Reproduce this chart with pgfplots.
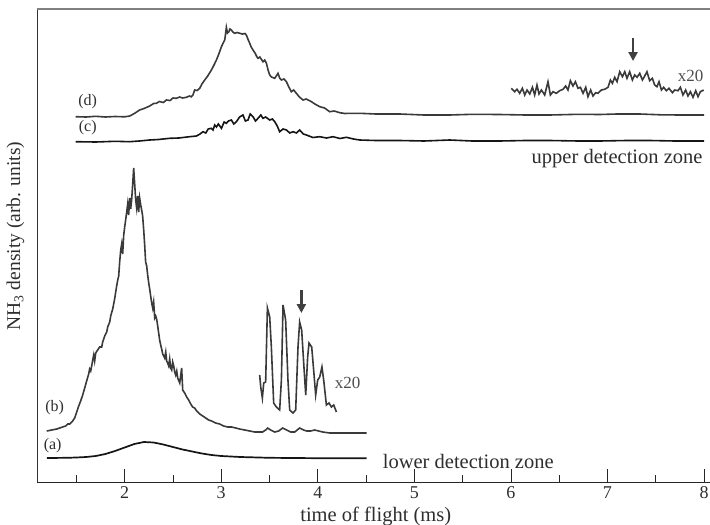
\documentclass[border=0pt]{standalone}
\usepackage{fontspec}
\setmainfont{Liberation Serif}
\usepackage{pgfplots}
\pgfplotsset{compat=1.18}
\usetikzlibrary{arrows.meta}
\definecolor{curvedark}{HTML}{3A3A3A}
\definecolor{curveblack}{HTML}{151515}
\definecolor{txt}{HTML}{2E2E2E}
\begin{document}
\begin{tikzpicture}
\begin{axis}[
  scale only axis,
  width=672.5pt, height=473pt,
  xmin=1.097, xmax=8.062,
  ymin=9, ymax=482, y dir=reverse,
  axis x line*=bottom, axis y line*=left,
  x axis line style={draw=black!85, line width=0.9pt},
  y axis line style={draw=black!80, line width=1.2pt},
  xtick={2,3,4,5,6,7,8},
  minor xtick={1.5,2.5,3.5,4.5,5.5,6.5,7.5},
  xtick align=inside,
  major tick length=13pt, minor tick length=6.7pt,
  every tick/.style={black!85, line width=0.8pt},
  ytick=\empty,
  /pgf/number format/assume math mode=true,
  xticklabel style={font=\fontsize{18}{21}\selectfont, text=txt, yshift=-1pt},
  xlabel={time of flight (ms)},
  ylabel={NH\textsubscript{3} density (arb. units)},
  every axis x label/.style={at={(axis description cs:0.503,0)}, anchor=center, yshift=-34pt, font=\fontsize{20.5}{24}\selectfont, text=txt},
  every axis y label/.style={at={(axis description cs:0,0.52)}, xshift=-22pt, rotate=90, anchor=center, font=\fontsize{19.5}{22}\selectfont, text=txt},
  clip=false,
]
% top frame line
\draw[draw=black!50, line width=1.3pt] (rel axis cs:0,1) -- (rel axis cs:1,1);

% (a)
\addplot[curveblack, line width=1.7pt] coordinates {
(1.195,458) (1.30,457.9) (1.40,457.8) (1.50,457.5) (1.60,457) (1.70,456) (1.80,454)
(1.90,451) (2.00,447.5) (2.10,444) (2.20,442) (2.30,442.5) (2.40,444.5) (2.50,447)
(2.60,449.5) (2.70,451.5) (2.80,453.5) (2.90,455) (3.00,456) (3.20,457) (3.50,457.8)
(4.00,458.2) (4.506,458.3)
};

% (b)
\addplot[curvedark, line width=1.6pt] coordinates {
(1.192,431) (1.244,430) (1.296,429) (1.327,428) (1.358,427) (1.389,426) (1.410,424)
(1.430,424) (1.461,421) (1.482,418) (1.503,412) (1.524,406) (1.544,401) (1.565,395)
(1.586,388) (1.606,381) (1.627,374) (1.637,369) (1.648,371) (1.658,366) (1.669,360)
(1.679,355) (1.689,361) (1.700,353) (1.720,350) (1.741,347) (1.762,347) (1.772,342)
(1.793,336) (1.814,332) (1.824,327) (1.845,322) (1.855,316) (1.876,309) (1.886,304)
(1.896,299) (1.907,292) (1.917,286) (1.928,280) (1.938,276) (1.948,262) (1.959,250)
(1.969,244) (1.979,254) (1.990,235) (2.000,227) (2.010,220) (2.021,212) (2.031,204)
(2.041,215) (2.052,198) (2.062,209) (2.072,200) (2.083,184) (2.093,168) (2.104,185)
(2.114,200) (2.124,208) (2.135,196) (2.145,212) (2.155,198) (2.166,205) (2.176,210)
(2.186,216) (2.197,230) (2.207,245) (2.217,262) (2.228,266) (2.238,275) (2.249,283)
(2.259,289) (2.269,296) (2.280,303) (2.290,308) (2.300,302) (2.311,318) (2.321,316)
(2.331,319) (2.342,326) (2.352,333) (2.362,340) (2.373,345) (2.383,349) (2.394,354)
(2.404,356) (2.414,358) (2.425,352) (2.435,361) (2.445,363) (2.456,366) (2.466,359)
(2.476,368) (2.487,370) (2.497,362) (2.508,366) (2.518,372) (2.528,375) (2.539,371)
(2.549,378) (2.570,383) (2.590,368) (2.601,390) (2.621,393) (2.642,397) (2.663,400)
(2.684,404) (2.704,407) (2.725,408) (2.746,411) (2.777,414) (2.808,416) (2.839,418)
(2.870,420) (2.901,421) (2.942,423) (2.984,424) (3.025,426) (3.067,427) (3.108,427)
(3.150,428) (3.191,429) (3.243,430) (3.295,431) (3.346,432) (3.398,432) (3.429,432)
(3.460,430) (3.481,428) (3.512,430) (3.554,432) (3.595,431) (3.636,428) (3.678,430)
(3.719,432) (3.761,432) (3.812,428) (3.854,430) (3.885,431) (3.926,431) (3.968,430)
(4.009,431) (4.051,432) (4.124,433) (4.227,433) (4.506,433)
};

% (b) x20 inset
\addplot[curvedark, line width=1.6pt] coordinates {
(3.398,375) (3.409,387) (3.426,398) (3.440,383) (3.460,382) (3.478,308) (3.502,317)
(3.519,347) (3.543,403) (3.571,407) (3.605,410) (3.623,380) (3.640,305) (3.667,320)
(3.691,380) (3.709,410) (3.743,413) (3.771,410) (3.795,347) (3.812,322) (3.833,330)
(3.854,363) (3.875,395) (3.895,357) (3.909,343) (3.937,347) (3.957,370) (3.978,395)
(3.999,380) (4.020,377) (4.043,367) (4.061,380) (4.089,405) (4.116,403) (4.141,407)
(4.165,405) (4.193,412)
};

% (c)
\addplot[curveblack, line width=1.6pt] coordinates {
(1.493,141.7) (1.70,142) (1.90,141.3) (2.052,141.7) (2.15,141) (2.259,140) (2.35,139.5)
(2.466,138.3) (2.56,138) (2.673,136.7) (2.743,136) (2.78,134) (2.811,131.7) (2.84,133)
(2.865,129) (2.898,128.3) (2.915,130) (2.932,125) (2.95,127) (2.97,124) (3.002,128.3)
(3.03,122) (3.053,123.3) (3.075,121) (3.105,120) (3.13,124) (3.157,121.7) (3.19,117)
(3.225,115) (3.25,121) (3.277,120) (3.30,114) (3.329,116.7) (3.355,121) (3.381,118.3)
(3.41,115) (3.432,118.3) (3.46,117) (3.502,120) (3.53,119) (3.554,121.7) (3.58,126)
(3.605,131.7) (3.64,129) (3.675,130) (3.71,133) (3.743,131.7) (3.78,133) (3.812,130)
(3.85,134) (3.882,135) (3.95,137.5) (4.020,136.7) (4.09,138) (4.157,136.7) (4.23,138.5)
(4.296,137.3) (4.37,139) (4.434,140) (4.6,140.5) (4.848,140.5) (5.1,141) (5.366,140)
(5.6,141) (5.884,141) (6.15,140.5) (6.402,140.5) (6.7,141) (6.920,141) (7.2,140.5)
(7.437,140.5) (7.7,141) (8.0,141)
};

% (d)
\addplot[curvedark, line width=1.6pt] coordinates {
(1.493,116.7) (1.60,117) (1.70,116.3) (1.80,117) (1.90,116.5) (2.00,116.8) (2.052,116)
(2.10,113.5) (2.155,110) (2.20,108.5) (2.259,106) (2.30,103.5) (2.328,103.3) (2.36,101.5)
(2.40,102.5) (2.432,100) (2.47,100.5) (2.50,98) (2.535,98.3) (2.57,97) (2.60,98)
(2.639,97.3) (2.67,96) (2.69,96.8) (2.707,95) (2.725,90) (2.75,90.5) (2.777,88.3)
(2.80,84) (2.829,80) (2.86,76) (2.898,70) (2.92,66) (2.950,60) (2.975,54) (3.002,46.7)
(3.02,43) (3.036,40) (3.046,33) (3.053,27.3) (3.065,33) (3.080,31.7) (3.09,29)
(3.105,30) (3.12,32) (3.139,33.3) (3.165,32.5) (3.191,33.3) (3.22,34) (3.245,33.5)
(3.260,35) (3.28,40) (3.295,43.3) (3.31,47) (3.329,50) (3.35,53) (3.37,57) (3.381,58.3)
(3.40,57) (3.432,61.7) (3.45,60) (3.468,63.3) (3.485,70) (3.502,75) (3.52,77)
(3.554,78.3) (3.57,76) (3.588,73.3) (3.605,78) (3.623,80) (3.65,79) (3.675,81.7)
(3.70,87) (3.726,91.7) (3.75,90) (3.778,93.3) (3.81,97) (3.847,100) (3.88,99)
(3.934,101.7) (3.97,104) (4.020,106.7) (4.07,108) (4.123,111.7) (4.17,111) (4.227,112.7)
(4.28,113.5) (4.330,113.3) (4.434,113.3) (4.6,114) (4.848,114) (5.1,115) (5.366,115)
(5.6,114.3) (5.884,114.5) (6.15,115) (6.402,115) (6.7,114.3) (6.920,114.5) (7.1,114)
(7.334,114) (7.55,114.8) (7.748,115) (8.0,115)
};

% (d) x20 inset
\addplot[curvedark, line width=1.6pt] coordinates {
(6.005,88.3) (6.039,91.7) (6.063,89.3) (6.091,93.3) (6.119,88.3) (6.143,95) (6.167,90)
(6.195,94) (6.223,87.3) (6.246,95) (6.270,85) (6.291,94) (6.316,90) (6.350,95)
(6.384,81.7) (6.409,95) (6.436,91.7) (6.471,93.3) (6.505,90.7) (6.540,89.3) (6.567,86)
(6.591,90) (6.616,80.7) (6.643,86) (6.668,81.7) (6.695,88.3) (6.720,87.3) (6.747,93.3)
(6.775,87.3) (6.798,96.7) (6.826,90) (6.850,96) (6.878,92.7) (6.902,93.3) (6.937,90)
(6.971,89.3) (7.006,87.3) (7.030,80) (7.051,83.3) (7.075,77.3) (7.099,81.7) (7.127,71.7)
(7.155,76.7) (7.179,71.7) (7.202,78.3) (7.230,71.7) (7.258,80) (7.282,75) (7.306,77.3)
(7.334,73.3) (7.362,80) (7.386,76) (7.409,71.7) (7.437,80.7) (7.465,78.3) (7.489,85)
(7.513,86.7) (7.534,81.7) (7.559,90) (7.582,87.3) (7.610,90.7) (7.637,88.3) (7.673,92.7)
(7.696,90) (7.731,90.7) (7.755,87.3) (7.782,95) (7.810,90) (7.834,96) (7.859,91.7)
(7.886,97.3) (7.914,90.7) (7.938,96.7) (7.962,91.7) (7.997,90)
};

% arrows
\draw[draw=black!75, line width=2.8pt, -{Triangle[length=9pt,width=9pt]}] (axis cs:3.83,290) -- (axis cs:3.83,313);
\draw[draw=black!75, line width=2.8pt, -{Triangle[length=9pt,width=9pt]}] (axis cs:7.265,38) -- (axis cs:7.265,61);

% labels
\node[text=txt, font=\fontsize{16}{18}\selectfont] at (axis cs:1.254,446) {(a)};
\node[text=txt, font=\fontsize{16}{18}\selectfont] at (axis cs:1.275,408) {(b)};
\node[text=txt, font=\fontsize{16}{18}\selectfont] at (axis cs:1.617,128) {(c)};
\node[text=txt, font=\fontsize{16}{18}\selectfont] at (axis cs:1.617,102) {(d)};
\node[text=txt!85, font=\fontsize{17}{19}\selectfont] at (axis cs:4.31,383) {x20};
\node[text=txt!85, font=\fontsize{17}{19}\selectfont] at (axis cs:7.862,76) {x20};
\node[text=txt, font=\fontsize{20.5}{23}\selectfont, anchor=west, inner sep=0pt] at (axis cs:4.672,461) {lower detection zone};
\node[text=txt, font=\fontsize{20.5}{23}\selectfont, anchor=east, inner sep=0pt] at (axis cs:7.986,159) {upper detection zone};
\end{axis}
\pgfresetboundingbox
\path[use as bounding box] (-37.5pt,-43pt) rectangle (672.5pt,482pt);
\end{tikzpicture}
\end{document}
